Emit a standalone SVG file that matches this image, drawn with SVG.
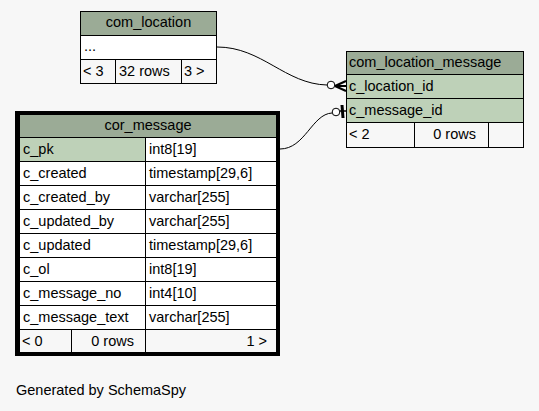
<svg xmlns="http://www.w3.org/2000/svg" width="539" height="411" viewBox="0 0 539 411">
<style>
text{font-family:"Liberation Sans",Arial,sans-serif;font-size:14.5px;fill:#000}
.c{stroke:#000;stroke-width:1;fill:#fff}
.h{fill:#9bab96;stroke:#000;stroke-width:1}
.k{fill:#bed1b8;stroke:#000;stroke-width:1}
.f{fill:#f7f7f7;stroke:#000;stroke-width:1}
.e{fill:none;stroke:#000;stroke-width:1}
.m{text-anchor:middle}
.r{text-anchor:end}
</style>
<rect width="539" height="411" fill="#f7f7f7"/>
<g id="connectors">
<path class="e" d="M217,47 C262,47 285,84 327,85"/>
<circle cx="331" cy="85" r="3.8" fill="#fff" stroke="#000"/>
<path d="M335,86 L346,81 M335,86 L346,91 M335,86 L346,86" fill="none" stroke="#000" stroke-width="2"/>
<path class="e" d="M280,149 C305,149 312,114 332,113"/>
<circle cx="336" cy="112" r="3.8" fill="#fff" stroke="#000"/>
<path d="M340,111 L346,111" stroke="#000" stroke-width="1.5" fill="none"/>
<path d="M342,105 L343,118" stroke="#000" stroke-width="3" fill="none"/>
</g>
<g id="com_location">
<rect class="h" x="80.5" y="11.5" width="136" height="24"/>
<text class="m" x="148.5" y="27">com_location</text>
<rect class="c" x="80.5" y="35.5" width="136" height="24"/>
<text x="84" y="51">...</text>
<rect class="f" x="80.5" y="59.5" width="35" height="24"/>
<rect class="f" x="115.5" y="59.5" width="66" height="24"/>
<rect class="f" x="181.5" y="59.5" width="35" height="24"/>
<text x="83" y="76">&lt; 3</text>
<text x="119" y="76">32 rows</text>
<text x="184" y="76">3 &gt;</text>
</g>
<g id="com_location_message">
<rect class="h" x="346.5" y="51.5" width="177" height="23"/>
<text x="349" y="67">com_location_message</text>
<rect class="k" x="346.5" y="74.5" width="177" height="24"/>
<text x="349" y="91">c_location_id</text>
<rect class="k" x="346.5" y="98.5" width="177" height="24"/>
<text x="349" y="115">c_message_id</text>
<rect class="f" x="346.5" y="122.5" width="68" height="25"/>
<rect class="f" x="414.5" y="122.5" width="74" height="25"/>
<rect class="f" x="488.5" y="122.5" width="35" height="25"/>
<text x="349" y="139">&lt; 2</text>
<text class="r" x="476" y="139">0 rows</text>
</g>
<g id="cor_message">
<rect x="15" y="111" width="265" height="245" fill="#000"/>
<rect class="h" x="19.5" y="114.5" width="257" height="23"/>
<text class="m" x="148" y="130">cor_message</text>
<rect class="k" x="19.5" y="137.5" width="126" height="24"/>
<rect class="c" x="145.5" y="137.5" width="131" height="24"/>
<text x="23" y="154">c_pk</text><text x="149" y="154">int8[19]</text>
<rect class="c" x="19.5" y="161.5" width="126" height="24"/>
<rect class="c" x="145.5" y="161.5" width="131" height="24"/>
<text x="23" y="178">c_created</text><text x="149" y="178">timestamp[29,6]</text>
<rect class="c" x="19.5" y="185.5" width="126" height="24"/>
<rect class="c" x="145.5" y="185.5" width="131" height="24"/>
<text x="23" y="202">c_created_by</text><text x="149" y="202">varchar[255]</text>
<rect class="c" x="19.5" y="209.5" width="126" height="24"/>
<rect class="c" x="145.5" y="209.5" width="131" height="24"/>
<text x="23" y="226">c_updated_by</text><text x="149" y="226">varchar[255]</text>
<rect class="c" x="19.5" y="233.5" width="126" height="24"/>
<rect class="c" x="145.5" y="233.5" width="131" height="24"/>
<text x="23" y="250">c_updated</text><text x="149" y="250">timestamp[29,6]</text>
<rect class="c" x="19.5" y="257.5" width="126" height="24"/>
<rect class="c" x="145.5" y="257.5" width="131" height="24"/>
<text x="23" y="274">c_ol</text><text x="149" y="274">int8[19]</text>
<rect class="c" x="19.5" y="281.5" width="126" height="24"/>
<rect class="c" x="145.5" y="281.5" width="131" height="24"/>
<text x="23" y="298">c_message_no</text><text x="149" y="298">int4[10]</text>
<rect class="c" x="19.5" y="305.5" width="126" height="24"/>
<rect class="c" x="145.5" y="305.5" width="131" height="24"/>
<text x="23" y="322">c_message_text</text><text x="149" y="322">varchar[255]</text>
<rect class="f" x="19.5" y="329.5" width="52" height="23"/>
<rect class="f" x="71.5" y="329.5" width="74" height="23"/>
<rect class="f" x="145.5" y="329.5" width="131" height="23"/>
<text x="22" y="346">&lt; 0</text>
<text class="r" x="134" y="346">0 rows</text>
<text class="r" x="267" y="346">1 &gt;</text>
</g>
<text x="16" y="395">Generated by SchemaSpy</text>
</svg>
